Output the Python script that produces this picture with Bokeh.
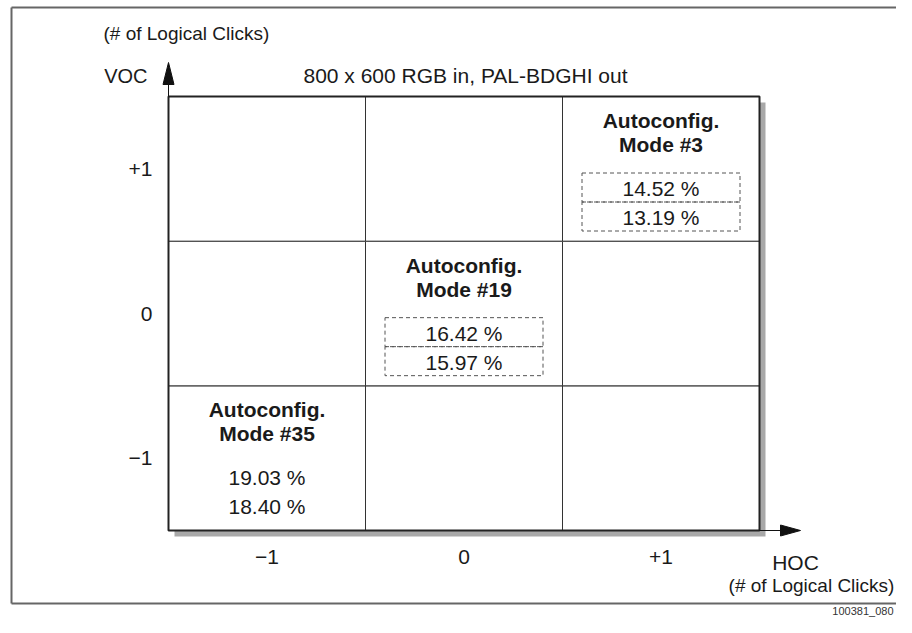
from bokeh.plotting import figure
from bokeh.models import Range1d
from bokeh.core.properties import value
from bokeh.embed import file_html
from bokeh.resources import INLINE

# ---------------- data ----------------
hoc_ticks = [-1, 0, 1]
hoc_labels = ["\u22121", "0", "+1"]
voc_ticks = [-1, 0, 1]
voc_labels = ["\u22121", "0", "+1"]
mode_names = ["Mode #3", "Mode #19", "Mode #35"]
mode_hoc = [1, 0, -1]
mode_voc = [1, 0, -1]
pct_first = [14.52, 16.42, 19.03]
pct_second = [13.19, 15.97, 18.40]
boxed = [True, True, False]
title_text = "800 x 600 RGB in, PAL-BDGHI out"
axis_unit = "(# of Logical Clicks)"
x_name = "HOC"
y_name = "VOC"
fig_id = "100381_080"

# ---------------- layout (pixels in figure) ----------------
W, H = 896, 617
GX0, GX1 = 168, 759      # grid left/right
GY0, GY1 = 96, 530       # grid top/bottom
sx = (GX1 - GX0) / 3.0
sy = (GY1 - GY0) / 3.0
x_start = -1.5 - GX0 / sx
x_end = 1.5 + (W - GX1) / sx
y_end = 1.5 + GY0 / sy
y_start = -1.5 - (H - GY1) / sy


def dx(px):
    return px / sx


def dy(px):
    return px / sy


def X(px):
    return x_start + px / sx


def Y(py):
    return y_end - py / sy


FONT = value("Liberation Sans")
INK = "#1a1a1a"

p = figure(width=W, height=H, output_backend="svg", toolbar_location=None,
           x_range=Range1d(x_start, x_end), y_range=Range1d(y_start, y_end),
           min_border=0, x_axis_type=None, y_axis_type=None)
p.xgrid.visible = False
p.ygrid.visible = False
p.outline_line_color = None
p.background_fill_color = "white"
p.border_fill_color = "white"

# outer frame (open on the right)
p.segment(x0=[X(11), X(11), X(11)], y0=[Y(7), Y(7), Y(603)],
          x1=[X(W), X(11), X(W)], y1=[Y(7), Y(603), Y(603)],
          line_color="#666666", line_width=2)

# shadow
p.quad(left=[-1.5 + dx(6)], right=[1.5 + dx(6)], top=[1.5 - dy(6)], bottom=[-1.5 - dy(6)],
       fill_color="#a8a8a8", line_color=None)

# cells
cx = [c for r in voc_ticks for c in hoc_ticks]
cy = [r for r in voc_ticks for c in hoc_ticks]
p.rect(x=cx, y=cy, width=1, height=1, fill_color="white", line_color="#333333", line_width=1)
# outer grid border
p.rect(x=[0], y=[0], width=3, height=3, fill_color=None, line_color="#222222", line_width=2)

# axis arrows
p.segment(x0=[-1.5, 1.5], y0=[1.5, -1.5], x1=[-1.5, 1.5 + dx(21)], y1=[1.5 + dy(12), -1.5],
          line_color="#111111", line_width=1)
p.patches(xs=[[-1.5 - dx(5.5), -1.5, -1.5 + dx(5.5)],
              [1.5 + dx(21), 1.5 + dx(41), 1.5 + dx(21)]],
          ys=[[1.5 + dy(12), 1.5 + dy(34), 1.5 + dy(12)],
              [-1.5 + dy(5.5), -1.5, -1.5 - dy(5.5)]],
          fill_color="#111111", line_color="#111111")

# tick labels
p.text(x=[X(152)] * 3, y=voc_ticks, text=voc_labels, text_font=FONT, text_font_size="21px",
       text_align="right", text_baseline="middle", text_color=INK)
p.text(x=hoc_ticks, y=[Y(556)] * 3, text=hoc_labels, text_font=FONT, text_font_size="21px",
       text_align="center", text_baseline="middle", text_color=INK)

# axis names and title
p.text(x=[X(103)], y=[Y(33)], text=[axis_unit], text_font=FONT, text_font_size="19px",
       text_align="left", text_baseline="middle", text_color=INK)
p.text(x=[X(147)], y=[Y(75)], text=[y_name], text_font=FONT, text_font_size="20px",
       text_align="right", text_baseline="middle", text_color=INK)
p.text(x=[X(465)], y=[Y(75)], text=[title_text], text_font=FONT, text_font_size="21px",
       text_align="center", text_baseline="middle", text_color=INK)
p.text(x=[X(795)], y=[Y(562)], text=[x_name], text_font=FONT, text_font_size="21px",
       text_align="center", text_baseline="middle", text_color=INK)
p.text(x=[X(811)], y=[Y(585)], text=[axis_unit], text_font=FONT, text_font_size="19px",
       text_align="center", text_baseline="middle", text_color=INK)
p.text(x=[X(893)], y=[Y(616)], text=[fig_id], text_font=FONT, text_font_size="11px",
       text_align="right", text_baseline="bottom", text_color="#333333")

# cell contents
tops = [v + 0.5 for v in mode_voc]
p.text(x=mode_hoc, y=[t - dy(24) for t in tops], text=["Autoconfig."] * 3,
       text_font=FONT, text_font_size="21px", text_font_style="bold",
       text_align="center", text_baseline="middle", text_color=INK)
p.text(x=mode_hoc, y=[t - dy(48) for t in tops], text=mode_names,
       text_font=FONT, text_font_size="21px", text_font_style="bold",
       text_align="center", text_baseline="middle", text_color=INK)

bx = [h for h, b in zip(mode_hoc, boxed) if b]
bt = [t for t, b in zip(tops, boxed) if b]
p.rect(x=bx + bx, y=[t - dy(91) for t in bt] + [t - dy(120) for t in bt],
       width=dx(158), height=dy(29), fill_color=None, line_color="#555555",
       line_width=1, line_dash="4 3")

p.text(x=mode_hoc, y=[t - dy(92) for t in tops], text=[f"{v:.2f} %" for v in pct_first],
       text_font=FONT, text_font_size="21px", text_align="center", text_baseline="middle",
       text_color=INK)
p.text(x=mode_hoc, y=[t - dy(121) for t in tops], text=[f"{v:.2f} %" for v in pct_second],
       text_font=FONT, text_font_size="21px", text_align="center", text_baseline="middle",
       text_color=INK)

open("out.html", "w").write(file_html(p, INLINE))
